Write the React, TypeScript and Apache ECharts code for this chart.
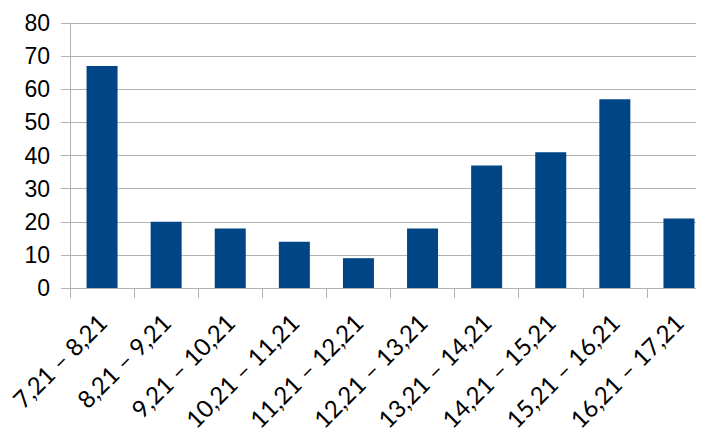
import React, { useEffect, useRef } from "react";
import * as echarts from "echarts";

const categories = [
  "7,21 – 8,21",
  "8,21 – 9,21",
  "9,21 – 10,21",
  "10,21 – 11,21",
  "11,21 – 12,21",
  "12,21 – 13,21",
  "13,21 – 14,21",
  "14,21 – 15,21",
  "15,21 – 16,21",
  "16,21 – 17,21",
];
const counts = [67, 20, 18, 14, 9, 18, 37, 41, 57, 21];

const GRID_COLOR = "#b3b3b3";
const BAR_COLOR = "#004586";

export default function App() {
  const ref = useRef<HTMLDivElement>(null);

  useEffect(() => {
    if (!ref.current) return;
    const chart = echarts.init(ref.current, null, { renderer: "svg" });
    chart.setOption({
      animation: false,
      backgroundColor: "#ffffff",
      // plot area runs slightly past the right edge of the canvas
      grid: { left: 70, top: 23, height: 265, width: 641, containLabel: false },
      xAxis: {
        type: "category",
        data: categories,
        boundaryGap: true,
        axisLine: { show: true, lineStyle: { color: GRID_COLOR, width: 1 } },
        axisTick: { show: true, length: 10, interval: 0, lineStyle: { color: GRID_COLOR } },
        axisLabel: {
          interval: 0,
          rotate: 45,
          margin: 30,
          color: "#000000",
          fontFamily: "Lato",
          fontSize: 24,
        },
        splitLine: { show: false },
      },
      yAxis: {
        type: "value",
        min: 0,
        max: 80,
        interval: 10,
        axisLine: { show: true, lineStyle: { color: GRID_COLOR, width: 1 } },
        axisTick: { show: true, length: 9, lineStyle: { color: GRID_COLOR } },
        axisLabel: {
          margin: 20,
          color: "#000000",
          fontFamily: "Liberation Sans",
          fontSize: 23,
        },
        splitLine: { show: true, lineStyle: { color: GRID_COLOR, width: 1 } },
      },
      series: [
        {
          type: "bar",
          data: counts,
          barWidth: 31,
          itemStyle: { color: BAR_COLOR },
        },
      ],
    });
    return () => chart.dispose();
  }, []);

  return (
    <div style={{ width: 704, height: 437, margin: -8, overflow: "hidden" }}>
      <div ref={ref} style={{ width: 720, height: 437 }} />
    </div>
  );
}
